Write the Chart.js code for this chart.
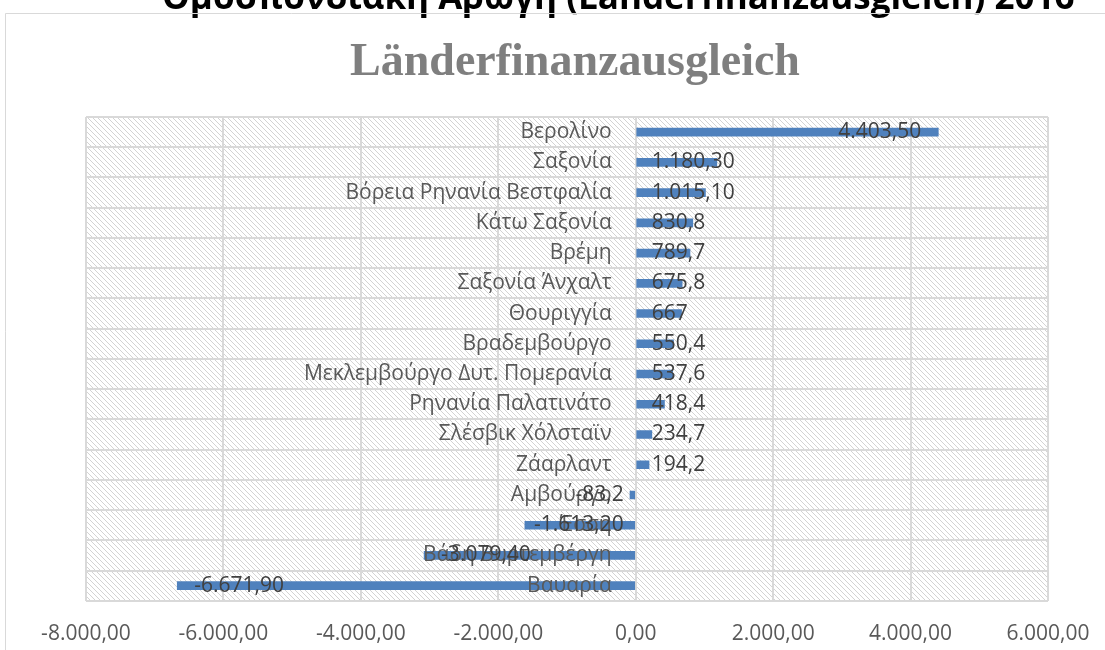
<!DOCTYPE html>
<html lang="el">
<head>
<meta charset="UTF-8">
<title>Länderfinanzausgleich</title>
<script src="https://cdn.jsdelivr.net/npm/chart.js@4.4.0/dist/chart.umd.min.js"></script>
<style>
    html, body { margin: 0; padding: 0; background: #fff; overflow: hidden; }
    #wrap { position: absolute; left: 0; top: 0; width: 1150px; height: 650px; }
</style>
</head>
<body>
<div id="wrap"><canvas id="chart" width="1150" height="650"></canvas></div>
<script>
// data
const pageTitle = 'Ομοσπονδιακή Αρωγή (Länderfinanzausgleich) 2016';
const chartTitle = 'Länderfinanzausgleich';
const states = [
    'Βερολίνο', 'Σαξονία', 'Βόρεια Ρηνανία Βεστφαλία', 'Κάτω Σαξονία', 'Βρέμη',
    'Σαξονία Άνχαλτ', 'Θουριγγία', 'Βραδεμβούργο', 'Μεκλεμβούργο Δυτ. Πομερανία',
    'Ρηνανία Παλατινάτο', 'Σλέσβικ Χόλσταϊν', 'Ζάαρλαντ', 'Αμβούργο', 'Έσση',
    'Βάδη Βυρτεμβέργη', 'Βαυαρία'
];
const amounts = [
    4403.5, 1180.3, 1015.1, 830.8, 789.7,
    675.8, 667, 550.4, 537.6,
    418.4, 234.7, 194.2, -83.2, -1613.2,
    -3079.4, -6671.9
];
const xTicks = [-8000, -6000, -4000, -2000, 0, 2000, 4000, 6000];

const fmt2 = v => v.toLocaleString('de-DE', { minimumFractionDigits: 2, maximumFractionDigits: 2 });
// the sheet shows big numbers with 2 decimals, small ones as typed
const valueText = v => Math.abs(v) >= 1000 ? fmt2(v) : String(v).replace('.', ',');

const FONT = '"Open Sans", "Noto Sans", sans-serif';

// diagonal hatch tile for the plot area
const tile = document.createElement('canvas');
tile.width = tile.height = 5;
(function () {
    const g = tile.getContext('2d');
    g.fillStyle = '#ffffff';
    g.fillRect(0, 0, 5, 5);
    g.fillStyle = '#d3d3d3';
    for (let i = 0; i < 5; i++) g.fillRect(i, i, 1, 1);
})();

const excelLook = {
    id: 'excelLook',
    beforeDraw(chart) {
        const { ctx, chartArea: a } = chart;
        ctx.save();
        ctx.fillStyle = '#fff';
        ctx.fillRect(0, 0, chart.width, chart.height);

        // heading of the page, cut off at the top
        ctx.fillStyle = '#000';
        ctx.font = 'bold 35px ' + FONT;
        ctx.textAlign = 'left';
        ctx.textBaseline = 'alphabetic';
        ctx.fillText(pageTitle, 162, 9);

        // chart frame
        ctx.strokeStyle = '#d9d9d9';
        ctx.lineWidth = 1;
        ctx.beginPath();
        ctx.moveTo(5.5, chart.height);
        ctx.lineTo(5.5, 13.5);
        ctx.lineTo(chart.width, 13.5);
        ctx.stroke();

        // chart title
        ctx.fillStyle = '#7f7f7f';
        ctx.font = 'bold 46px "Liberation Serif", serif';
        ctx.textAlign = 'center';
        ctx.fillText(chartTitle, 575, 75);

        ctx.fillStyle = ctx.createPattern(tile, 'repeat');
        ctx.fillRect(a.left, a.top, a.right - a.left, a.bottom - a.top);
        ctx.restore();
    },
    afterDatasetsDraw(chart) {
        const { ctx } = chart;
        const x = chart.scales.x;
        const zero = x.getPixelForValue(0);
        const bars = chart.getDatasetMeta(0).data;
        ctx.save();
        ctx.font = '21px ' + FONT;
        ctx.textBaseline = 'middle';

        // category names sit next to the zero line
        ctx.fillStyle = '#595959';
        ctx.textAlign = 'right';
        bars.forEach((b, i) => ctx.fillText(states[i], zero - 24, b.y));

        // value labels, inside end
        ctx.fillStyle = '#404040';
        ctx.textAlign = 'left';
        bars.forEach((b, i) => {
            const v = amounts[i];
            const t = valueText(v);
            const w = ctx.measureText(t).width;
            let left;
            if (v >= 0) {
                left = Math.max(zero + 16, b.x - 17 - w);
            } else {
                left = Math.min(zero - 12 - w, b.x + 17);
            }
            ctx.fillText(t, left, b.y);
        });
        ctx.restore();
    }
};

new Chart(document.getElementById('chart'), {
    type: 'bar',
    data: {
        labels: states,
        datasets: [{
            data: amounts,
            backgroundColor: '#4f81bd',
            barThickness: 8
        }]
    },
    options: {
        indexAxis: 'y',
        responsive: false,
        animation: false,
        devicePixelRatio: 1,
        layout: { padding: { left: 86, right: 102, top: 117, bottom: -18 } },
        plugins: {
            legend: { display: false },
            title: { display: false },
            tooltip: { enabled: false }
        },
        scales: {
            x: {
                min: xTicks[0],
                max: xTicks[xTicks.length - 1],
                afterBuildTicks: axis => { axis.ticks = xTicks.map(v => ({ value: v })); },
                grid: { color: '#d9d9d9', lineWidth: 2, drawTicks: false },
                border: { display: false },
                ticks: {
                    padding: 21,
                    color: '#595959',
                    font: { family: FONT, size: 21 },
                    callback: v => fmt2(v)
                }
            },
            y: {
                grid: { color: '#d9d9d9', lineWidth: 2, drawTicks: false, offset: true },
                border: { display: false },
                ticks: { display: false }
            }
        }
    },
    plugins: [excelLook]
});
</script>
</body>
</html>
